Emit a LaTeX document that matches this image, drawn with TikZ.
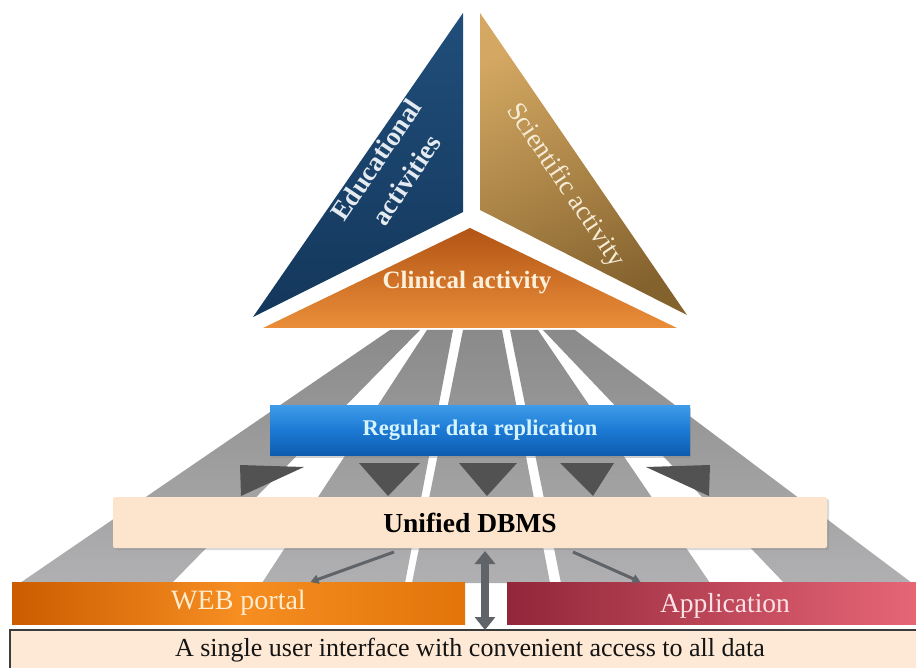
\documentclass[tikz,border=0pt]{standalone}
\usepackage{fontspec}
\setmainfont{Liberation Serif}
\usetikzlibrary{shadows,arrows.meta}

\definecolor{navyA}{RGB}{32,78,122}
\definecolor{navyB}{RGB}{20,55,92}
\definecolor{tanA}{RGB}{212,168,98}
\definecolor{tanB}{RGB}{132,98,46}
\definecolor{clinA}{RGB}{178,84,20}
\definecolor{clinB}{RGB}{234,142,58}
\definecolor{bandtop}{RGB}{138,138,138}
\definecolor{bandbot}{RGB}{176,176,178}
\definecolor{headdark}{RGB}{82,82,82}
\definecolor{replA}{RGB}{62,156,234}
\definecolor{replM}{RGB}{28,122,212}
\definecolor{replB}{RGB}{14,92,176}
\definecolor{repltext}{RGB}{214,244,255}
\definecolor{dbmsfill}{RGB}{253,228,204}
\definecolor{uifill}{RGB}{253,233,213}
\definecolor{uiline}{RGB}{60,60,60}
\definecolor{webA}{RGB}{204,92,0}
\definecolor{webM}{RGB}{246,142,34}
\definecolor{webB}{RGB}{226,116,10}
\definecolor{webtext}{RGB}{255,236,204}
\definecolor{appA}{RGB}{146,38,58}
\definecolor{appB}{RGB}{230,102,118}
\definecolor{apptext}{RGB}{252,226,230}
\definecolor{linkgray}{RGB}{96,100,104}
\definecolor{edutext}{RGB}{228,234,240}
\definecolor{scitext}{RGB}{246,236,214}
\definecolor{clintext}{RGB}{252,240,218}

\tikzset{
  band/.style={top color=bandtop, bottom color=bandbot},
  headfill/.style={fill=headdark},
  panel/.style={inner sep=0pt, outer sep=0pt},
  link/.style={draw=linkgray, line width=3pt, -{Triangle[width=9pt,length=8pt]}},
  duplex/.style={draw=linkgray, line width=8pt,
    {Triangle[width=20pt,length=13pt]}-{Triangle[width=20pt,length=13pt]}},
}

\begin{document}
\begin{tikzpicture}[x=1pt,y=-1pt]
\useasboundingbox[fill=white] (0,0) rectangle (916,668);

% fan of grey rays below the triangle
\foreach \a/\b/\c/\d in {390/420/172/20, 427/453/405/262, 463/502/550/412,
                         510/538/710/561, 543/575/912/784}
  \shade[band] (\a,330) -- (\b,330) -- (\c,583) -- (\d,583) -- cycle;

% the three activity triangles
\shade[top color=navyA, bottom color=navyB] (463,13) -- (463,212) -- (253,317) -- cycle;
\shade[top color=tanA, bottom color=tanB, shading angle=25] (480,13) -- (480,210) -- (687,315) -- cycle;
\shade[top color=clinA, bottom color=clinB] (470,228) -- (677,328) -- (263,328) -- cycle;

\node[rotate=56, align=center, text=edutext,
      font=\fontsize{27}{36}\selectfont\bfseries] (edu) at (391,170) {Educational\\activities};
\node[rotate=-56, text=scitext, font=\fontsize{27}{32}\selectfont] (sci) at (565,186) {Scientific activity};
\node[text=clintext, font=\fontsize{25}{30}\selectfont\bfseries] (clin) at (467,283) {Clinical activity};

% replication box
\node[panel, top color=replA, bottom color=replB, middle color=replM,
      minimum width=420pt, minimum height=50pt,
      drop shadow={shadow xshift=1pt, shadow yshift=-3pt, opacity=0.35},
      text=repltext, font=\fontsize{22.5}{26}\selectfont\bfseries] (repl) at (480,430) {Regular data replication};

% arrow heads under the replication box
\fill[headfill] (240,465) -- (304,467) -- (241,496) -- cycle;
\fill[headfill] (359,463) -- (420,463) -- (388,496) -- cycle;
\fill[headfill] (459,463) -- (517,463) -- (487,496) -- cycle;
\fill[headfill] (560,463) -- (614,463) -- (593,496) -- cycle;
\fill[headfill] (646,467) -- (710,465) -- (709,496) -- cycle;

% unified database
\node[panel, fill=dbmsfill, rounded corners=2pt,
      minimum width=714pt, minimum height=51pt,
      drop shadow={shadow xshift=2pt, shadow yshift=-2pt, opacity=0.3},
      font=\fontsize{27.5}{32}\selectfont\bfseries] (dbms) at (470,522.5) {Unified DBMS};

% front-end boxes
\node[panel, left color=webA, right color=webB, middle color=webM,
      minimum width=453pt, minimum height=42pt,
      text=webtext, font=\fontsize{28}{32}\selectfont] (web) at (238.5,603) {WEB portal};
\node[panel, left color=appA, right color=appB,
      minimum width=409pt, minimum height=42pt] (app) at (711.5,603) {};
\node[text=apptext, font=\fontsize{27.5}{32}\selectfont] (applabel) at (725,606) {Application};

% user interface strip
\node[panel, fill=uifill, minimum width=906pt, minimum height=38pt] (ui) at (463,649) {};
\draw[uiline, line width=1.6pt] (ui.south west) -- (ui.north west) -- (ui.north east);
\node[font=\fontsize{26}{30}\selectfont, text=black!92] (uilabel) at (470,650)
  {A single user interface with convenient access to all data};

% connectors
\coordinate (gap) at (485,0);
\draw[link] ([xshift=-76pt,yshift=-4pt]dbms.south) -- ([xshift=72pt]web.north);
\draw[link] ([xshift=103pt,yshift=-4pt]dbms.south) -- ([xshift=-71pt]app.north);
\draw[duplex] ([yshift=-3pt]dbms.south -| gap) -- (ui.north -| gap);
\end{tikzpicture}
\end{document}
